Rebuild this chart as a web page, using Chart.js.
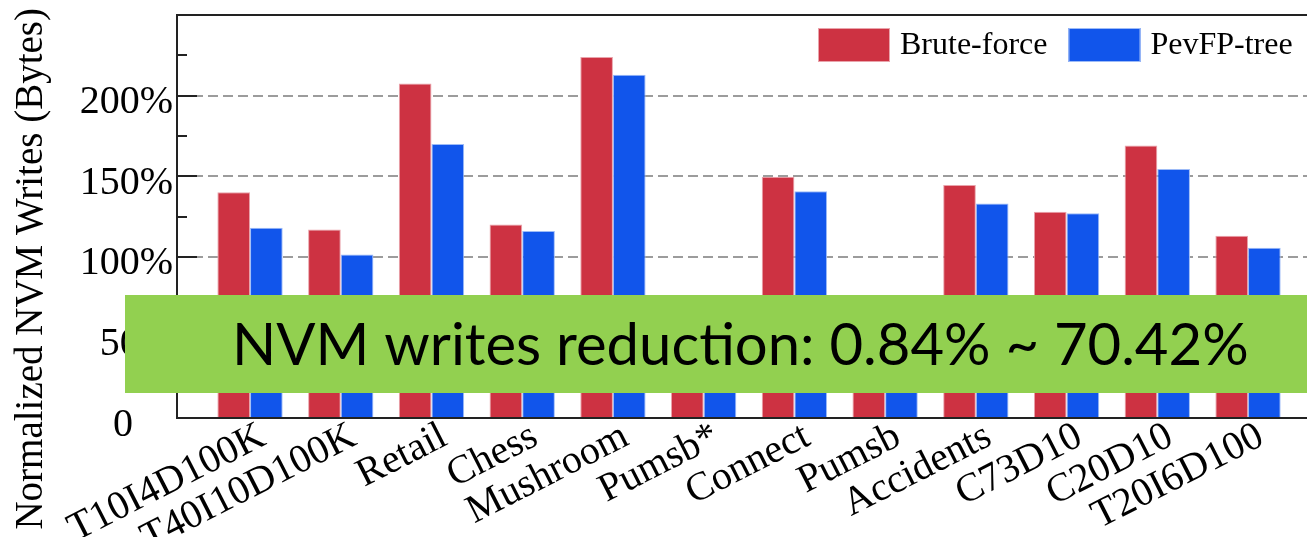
<!DOCTYPE html>
<html>
<head>
    <script src="https://cdn.jsdelivr.net/npm/chart.js@4.4.0/dist/chart.umd.min.js"></script>
    <style>
        body {
            margin: 0;
            padding: 0;
            background: #fff;
            overflow: hidden;
        }
        #wrap {
            width: 1307px;
            height: 537px;
        }
    </style>
</head>
<body>
<div id="wrap"><canvas id="myChart" width="1307" height="537"></canvas></div>

<script>
    const categories = ['T10I4D100K', 'T40I10D100K', 'Retail', 'Chess', 'Mushroom', 'Pumsb*',
        'Connect', 'Pumsb', 'Accidents', 'C73D10', 'C20D10', 'T20I6D100'];
    const bruteForce = [140, 117, 207.5, 120, 224, 72, 149.7, 68, 144.5, 128, 169, 113];
    const pevfpTree = [118, 101.5, 170, 116, 213, 21.3, 140.7, 52, 133, 127, 154.4, 105.6];
    const yLabelTicks = [0, 50, 100, 150, 200];
    const yMinorTicks = [25, 75, 125, 175, 225];
    const yMax = 250;
    const boxText = 'NVM writes reduction: 0.84% ~ 70.42%';
    const yTitle = 'Normalized NVM Writes (Bytes)';

    // x range picked so bar groups sit where they do in the figure
    const xMin = -0.805;
    const xMax = 11.65;

    const serif = '"Liberation Serif", "Times New Roman", serif';

    const overlay = {
        id: 'overlay',
        afterDraw(chart) {
            const {ctx, chartArea: a, scales: {y}} = chart;
            ctx.save();

            // top frame line
            ctx.strokeStyle = '#222';
            ctx.lineWidth = 2;
            ctx.beginPath();
            ctx.moveTo(a.left - 1, a.top);
            ctx.lineTo(a.right, a.top);
            ctx.stroke();

            // inward tick marks, long on labelled values
            yLabelTicks.concat(yMinorTicks).forEach(v => {
                const py = Math.round(y.getPixelForValue(v));
                const len = yLabelTicks.includes(v) ? 20 : 10;
                ctx.beginPath();
                ctx.moveTo(a.left, py);
                ctx.lineTo(a.left + len, py);
                ctx.stroke();
            });

            // legend in the top right corner
            ctx.font = '32px ' + serif;
            ctx.textBaseline = 'middle';
            ctx.textAlign = 'left';
            let lx = 818;
            chart.data.datasets.forEach(ds => {
                ctx.fillStyle = ds.backgroundColor;
                ctx.fillRect(lx, 28, 72, 34);
                ctx.strokeStyle = ds.borderColor;
                ctx.lineWidth = 1;
                ctx.strokeRect(lx + 0.5, 28.5, 71, 33);
                ctx.fillStyle = '#000';
                ctx.fillText(ds.label, lx + 82, 46);
                lx += 82 + ctx.measureText(ds.label).width + 21;
            });

            // y axis title
            ctx.save();
            ctx.translate(42, 8);
            ctx.rotate(-Math.PI / 2);
            ctx.font = '39px ' + serif;
            ctx.textAlign = 'right';
            ctx.textBaseline = 'alphabetic';
            ctx.fillStyle = '#000';
            ctx.fillText(yTitle, 0, 0);
            ctx.restore();

            // green call-out box
            ctx.fillStyle = '#92D050';
            ctx.fillRect(125, 295, chart.width - 125, 98);
            ctx.fillStyle = '#000';
            ctx.font = '58px Lato, "Open Sans", sans-serif';
            ctx.textAlign = 'left';
            ctx.textBaseline = 'alphabetic';
            ctx.fillText(boxText, 232, 365);

            ctx.restore();
        }
    };

    const ctx = document.getElementById('myChart').getContext('2d');
    const myChart = new Chart(ctx, {
        type: 'bar',
        data: {
            datasets: [
                {
                    label: 'Brute-force',
                    backgroundColor: '#CD3242',
                    borderColor: '#E9A3AB',
                    borderWidth: 1,
                    data: bruteForce.map((v, i) => ({x: i, y: v}))
                },
                {
                    label: 'PevFP-tree',
                    backgroundColor: '#1155EB',
                    borderColor: '#9DBBF7',
                    borderWidth: 1,
                    data: pevfpTree.map((v, i) => ({x: i, y: v}))
                }
            ]
        },
        options: {
            responsive: false,
            animation: false,
            devicePixelRatio: 1,
            categoryPercentage: 0.72,
            barPercentage: 1.0,
            layout: {padding: {top: 15, left: 0, right: 0, bottom: 0}},
            plugins: {
                legend: {display: false},
                tooltip: {enabled: false}
            },
            scales: {
                x: {
                    type: 'linear',
                    min: xMin,
                    max: xMax,
                    offset: false,
                    afterBuildTicks: scale => {
                        scale.ticks = categories.map((c, i) => ({value: i}));
                    },
                    afterFit: scale => {
                        scale.height = 119;
                        scale.paddingLeft = 0;
                        scale.paddingRight = 0;
                    },
                    ticks: {
                        autoSkip: false,
                        minRotation: 27,
                        maxRotation: 27,
                        padding: -5,
                        labelOffset: 13,
                        color: '#000',
                        font: {family: serif, size: 40},
                        callback: (v, i) => categories[i]
                    },
                    grid: {display: false, drawTicks: false},
                    border: {display: true, color: '#222', width: 2}
                },
                y: {
                    min: 0,
                    max: yMax,
                    afterBuildTicks: scale => {
                        scale.ticks = yLabelTicks.map(v => ({value: v}));
                    },
                    afterFit: scale => {
                        scale.width = 177;
                        scale.paddingTop = 0;
                        scale.paddingBottom = 0;
                    },
                    ticks: {
                        padding: 4,
                        labelOffset: 7,
                        color: '#000',
                        font: {family: serif, size: 40},
                        callback: v => v === 0 ? '0    ' : v + '%'
                    },
                    grid: {
                        drawTicks: false,
                        lineWidth: 2,
                        color: c => (c.tick && c.tick.value > 0) ? '#9c9c9c' : 'rgba(0,0,0,0)'
                    },
                    border: {display: true, color: '#222', width: 2, dash: [10, 5]}
                }
            }
        },
        plugins: [overlay]
    });
</script>
</body>
</html>
